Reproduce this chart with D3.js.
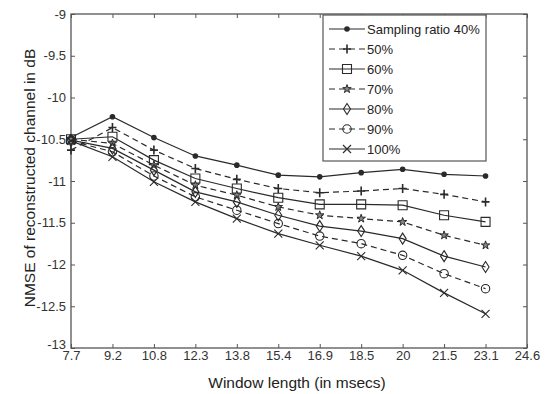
<!DOCTYPE html>
<html>
<head>
<meta charset="utf-8">
<script src="https://cdn.jsdelivr.net/npm/d3@7/dist/d3.min.js"></script>
<style>
  html, body { margin: 0; padding: 0; background: #fff; }
  svg { display: block; font-family: "Liberation Sans", Arial, sans-serif; }
</style>
</head>
<body>
<svg id="chart" width="551" height="394"></svg>
<script>
// ---- data ----
const xTickLabels = ["7.7", "9.2", "10.8", "12.3", "13.8", "15.4", "16.9", "18.5", "20", "21.5", "23.1", "24.6"];
const windowLengths = ["7.7", "9.2", "10.8", "12.3", "13.8", "15.4", "16.9", "18.5", "20", "21.5", "23.1"];
const yTickValues = [-13, -12.5, -12, -11.5, -11, -10.5, -10, -9.5, -9];
const seriesNames = ["Sampling ratio 40%", "50%", "60%", "70%", "80%", "90%", "100%"];
const ratio40 = [-10.48, -10.23, -10.48, -10.70, -10.81, -10.93, -10.95, -10.90, -10.86, -10.92, -10.94];
const ratio50 = [-10.63, -10.36, -10.63, -10.85, -10.98, -11.09, -11.14, -11.12, -11.09, -11.16, -11.25];
const ratio60 = [-10.50, -10.47, -10.75, -10.97, -11.09, -11.20, -11.28, -11.28, -11.29, -11.41, -11.49];
const ratio70 = [-10.50, -10.55, -10.81, -11.05, -11.17, -11.31, -11.41, -11.45, -11.49, -11.65, -11.77];
const ratio80 = [-10.51, -10.61, -10.87, -11.13, -11.25, -11.41, -11.54, -11.60, -11.69, -11.90, -12.03];
const ratio90 = [-10.52, -10.65, -10.94, -11.19, -11.35, -11.51, -11.66, -11.75, -11.89, -12.11, -12.29];
const ratio100 = [-10.52, -10.71, -11.01, -11.25, -11.45, -11.63, -11.77, -11.90, -12.07, -12.34, -12.59];
const seriesValues = [ratio40, ratio50, ratio60, ratio70, ratio80, ratio90, ratio100];

// ---- styles ----
const markerTypes = ["dot", "plus", "square", "star", "diamond", "circle", "x"];
const dashStyles = [null, "6,4", null, "6,4", null, "6,4", null];

const svg = d3.select("#chart");
const L = 71, R = 527, T = 14, B = 348;
const x = d3.scalePoint().domain(xTickLabels).range([L, R]).padding(0);
const y = d3.scaleLinear().domain([-13, -9]).range([B, T]);

const axisColor = "#555";
const lineColor = "#2a2a2a";

// frame
svg.append("rect").attr("x", L).attr("y", T).attr("width", R - L).attr("height", B - T)
  .attr("fill", "none").attr("stroke", axisColor).attr("stroke-width", 1.3);

function styleAxis(g, showText) {
  g.select(".domain").remove();
  g.selectAll(".tick line").attr("stroke", axisColor).attr("stroke-width", 1);
  g.selectAll(".tick text").attr("fill", "#333").style("font-size", "13px")
    .style("display", showText ? null : "none");
}

svg.append("g").attr("transform", `translate(0,${B})`)
  .call(d3.axisBottom(x).tickSize(-4).tickPadding(3))
  .call(g => styleAxis(g, true));
svg.append("g").attr("transform", `translate(0,${T})`)
  .call(d3.axisTop(x).tickSize(-4))
  .call(g => styleAxis(g, false));
svg.append("g").attr("transform", `translate(${L},0)`)
  .call(d3.axisLeft(y).tickValues(yTickValues).tickFormat(d => String(d)).tickSize(-4).tickPadding(5))
  .call(g => styleAxis(g, true))
  .call(g => g.selectAll(".tick text").filter(d => d === -13).attr("dy", "0.05em"));
svg.append("g").attr("transform", `translate(${R},0)`)
  .call(d3.axisRight(y).tickValues(yTickValues).tickSize(-4))
  .call(g => styleAxis(g, false));

// axis titles
svg.append("text").attr("x", 297).attr("y", 388).attr("text-anchor", "middle")
  .attr("fill", "#222").style("font-size", "15.5px").text("Window length (in msecs)");
svg.append("text").attr("transform", `translate(35,${(T + B) / 2 - 3}) rotate(-90)`)
  .attr("text-anchor", "middle").attr("fill", "#222").style("font-size", "15.5px")
  .text("NMSE of reconstructed channel in dB");

// markers
function drawMarker(g, type) {
  const c = lineColor;
  switch (type) {
    case "dot": g.append("circle").attr("r", 2.8).attr("fill", c); break;
    case "plus": g.append("path").attr("d", "M-4,0H4M0,-4.5V4.5").attr("stroke", c).attr("stroke-width", 1.6).attr("fill", "none"); break;
    case "square": g.append("path").attr("d", "M-4.5,-4.5h9v9h-9z").attr("stroke", c).attr("stroke-width", 1.1).attr("fill", "none"); break;
    case "star": g.append("path").attr("d", d3.symbol(d3.symbolStar, 22)()).attr("stroke", c).attr("stroke-width", 1).attr("fill", "#888"); break;
    case "diamond": g.append("path").attr("d", "M0,-5.5L3.5,0L0,5.5L-3.5,0Z").attr("stroke", c).attr("stroke-width", 1.1).attr("fill", "none"); break;
    case "circle": g.append("circle").attr("r", 4.2).attr("stroke", c).attr("stroke-width", 1.1).attr("fill", "none"); break;
    case "x": g.append("path").attr("d", "M-4,-4L4,4M-4,4L4,-4").attr("stroke", c).attr("stroke-width", 1.1).attr("fill", "none"); break;
  }
}

const line = d3.line().x((d, i) => x(windowLengths[i])).y(d => y(d));
seriesValues.forEach((vals, s) => {
  svg.append("path").datum(vals).attr("d", line).attr("fill", "none")
    .attr("stroke", lineColor).attr("stroke-width", 1.2)
    .attr("stroke-dasharray", dashStyles[s]);
  vals.forEach((v, i) => {
    const g = svg.append("g").attr("transform", `translate(${x(windowLengths[i])},${y(v)})`);
    drawMarker(g, markerTypes[s]);
  });
});

// legend
const lg = svg.append("g");
lg.append("rect").attr("x", 323).attr("y", 15).attr("width", 163).attr("height", 146)
  .attr("fill", "#fff").attr("stroke", axisColor).attr("stroke-width", 1.2);
seriesNames.forEach((name, s) => {
  const cy = 29 + s * 20;
  lg.append("line").attr("x1", 329).attr("x2", 365).attr("y1", cy).attr("y2", cy)
    .attr("stroke", lineColor).attr("stroke-width", 1.2).attr("stroke-dasharray", dashStyles[s]);
  const g = lg.append("g").attr("transform", `translate(347,${cy})`);
  drawMarker(g, markerTypes[s]);
  lg.append("text").attr("x", 367).attr("y", cy + 5).attr("fill", "#222")
    .style("font-size", "13px").text(name);
});
</script>
</body>
</html>
